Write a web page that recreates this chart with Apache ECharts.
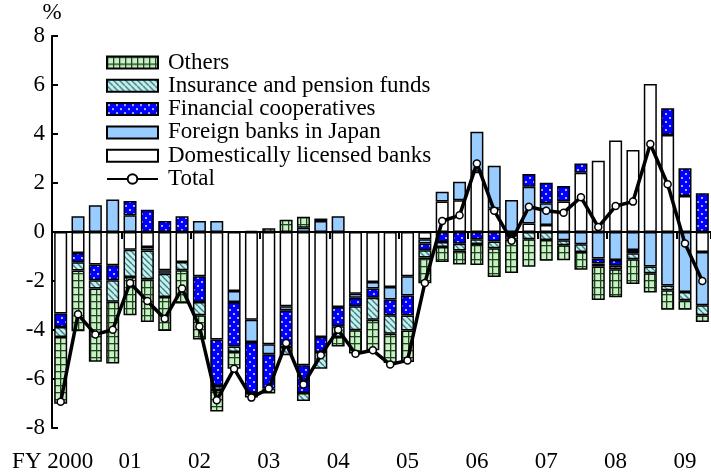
<!DOCTYPE html>
<html><head><meta charset="utf-8">
<script src="https://cdn.jsdelivr.net/npm/echarts@6/dist/echarts.min.js"></script>
<style>html,body{margin:0;padding:0;background:#fff}#c{width:711px;height:473px}</style>
</head><body><div id="c"></div>
<script>
const categories = ['2000Q1','2000Q2','2000Q3','2000Q4','2001Q1','2001Q2','2001Q3','2001Q4',
  '2002Q1','2002Q2','2002Q3','2002Q4','2003Q1','2003Q2','2003Q3','2003Q4',
  '2004Q1','2004Q2','2004Q3','2004Q4','2005Q1','2005Q2','2005Q3','2005Q4',
  '2006Q1','2006Q2','2006Q3','2006Q4','2007Q1','2007Q2','2007Q3','2007Q4',
  '2008Q1','2008Q2','2008Q3','2008Q4','2009Q1','2009Q2'];
const yearLabels = ['FY 2000','01','02','03','04','05','06','07','08','09'];
const domestic = [-3.33,-0.86,-1.33,-1.36,-0.72,-0.61,-1.56,-1.22,-1.81,-4.39,-2.41,-3.58,-4.58,-3.03,-5.44,-4.29,-3.06,-2.52,-2.04,-2.24,-1.81,-0.3,1.24,1.3,2.46,0.95,0,0.35,0.29,1.24,2.42,2.91,3.73,3.35,6.04,3.96,1.47,-0.82];
const foreign = [0,0.64,1.09,1.33,0.68,-0.14,-0.14,0,0.45,0.45,-0.45,-0.91,-0.41,-0.16,0.17,0.45,0.64,-0.16,-0.27,-0.52,-0.78,-0.17,0.40,0.75,1.63,1.75,1.31,1.5,0.88,-0.34,-0.5,-1.08,-1.14,-0.73,-1.41,-2.18,-2.45,-2.17];
const cooperatives = [-0.55,-0.37,-0.64,-0.61,0.59,0.91,0.45,0.64,-1.05,-1.9,-1.81,-2.08,-1.4,-1.5,-1.13,-0.61,-0.79,-0.35,-0.37,-0.64,-0.82,-0.27,-0.41,-0.48,-0.3,-0.39,-0.12,0.52,0.84,0.64,0.38,-0.21,-0.24,-0.14,0,1.09,1.13,1.58];
const insurance = [-0.41,-0.34,-0.34,-0.88,-1.12,-1.18,-0.95,-0.34,-0.54,-0.16,-0.23,-0.19,-0.2,-0.34,-0.33,-0.68,-0.44,-0.98,-0.9,-0.75,-0.61,-0.3,-0.2,-0.27,-0.19,-0.27,-0.2,-0.3,-0.33,-0.2,-0.32,-0.12,-0.14,-0.24,-0.27,-0.2,-0.34,-0.41];
const others = [-2.72,-2.48,-2.99,-2.52,-1.56,-1.74,-1.39,-1.36,-0.99,-0.88,-0.68,0.05,0.15,0.5,0.45,0.1,-0.38,-0.95,-1.25,-1.2,-1.29,-1.05,-0.61,-0.58,-0.86,-1.18,-1.35,-1.12,-0.84,-0.61,-0.72,-1.37,-1.14,-1.01,-0.79,-0.79,-0.38,-0.27];
const total = [-6.93,-3.36,-4.18,-3.99,-2.08,-2.82,-3.54,-2.31,-3.86,-6.87,-5.58,-6.76,-6.39,-4.53,-6.22,-5.03,-3.99,-4.97,-4.83,-5.41,-5.24,-2.08,0.45,0.68,2.80,0.87,-0.36,1.03,0.87,0.79,1.42,0.2,1.06,1.24,3.59,1.95,-0.47,-2.0];

const FONT = "'Liberation Serif','Times New Roman',serif";

function pattern(w, h, draw) {
  const c = document.createElement('canvas');
  c.width = w; c.height = h;
  const g = c.getContext('2d');
  draw(g, w, h);
  return { image: c, repeat: 'repeat' };
}
const greenGrid = pattern(6, 7, (g, w, h) => {
  g.fillStyle = '#c8f0c4'; g.fillRect(0, 0, w, h);
  g.fillStyle = '#1f451f'; g.fillRect(0, 0, 1.3, h); g.fillRect(0, 0, w, 1.3);
});
const hatch = pattern(6, 6, (g, w, h) => {
  g.fillStyle = '#c4f0f0'; g.fillRect(0, 0, w, h);
  g.strokeStyle = '#3f7f7f'; g.lineWidth = 1.4;
  g.beginPath();
  for (let k = -1; k <= 1; k++) { g.moveTo(k * w, 0); g.lineTo(k * w + w, h); }
  g.stroke();
});
const dots = pattern(8, 8, (g, w, h) => {
  g.fillStyle = '#0000ff'; g.fillRect(0, 0, w, h);
  g.fillStyle = '#ffffff';
  g.beginPath(); g.arc(2, 2, 0.9, 0, Math.PI * 2); g.fill();
  g.beginPath(); g.arc(6, 6, 0.9, 0, Math.PI * 2); g.fill();
});

function barSeries(name, data, color, extra) {
  return Object.assign({
    name, type: 'bar', stack: 'all', barWidth: 13,
    data: data.map(v => v === 0 ? null : v),
    itemStyle: { color, borderColor: '#000', borderWidth: 1.5 },
    emphasis: { disabled: true }
  }, extra || {});
}

const chart = echarts.init(document.getElementById('c'), null, { renderer: 'canvas' });
chart.setOption({
  animation: false,
  backgroundColor: '#fff',
  textStyle: { fontFamily: FONT, color: '#000' },
  grid: { left: 52, top: 36, width: 661, height: 392 },
  legend: {
    orient: 'vertical', left: 101, top: 46,
    itemWidth: 51, itemHeight: 12, itemGap: 0.3,
    textStyle: { fontFamily: FONT, fontSize: 23, lineHeight: 23, color: '#000', padding: [0, 0, 0, 5] },
    data: [
      { name: 'Others', icon: 'rect' },
      { name: 'Insurance and pension funds', icon: 'rect' },
      { name: 'Financial cooperatives', icon: 'rect' },
      { name: 'Foreign banks in Japan', icon: 'rect' },
      { name: 'Domestically licensed banks', icon: 'rect' },
      { name: 'Total' }
    ]
  },
  xAxis: {
    type: 'category', data: categories,
    axisLine: { lineStyle: { color: '#000', width: 2 } },
    axisTick: { show: true, length: 7, inside: false, interval: (i) => i % 4 === 0, lineStyle: { color: '#000', width: 2 } },
    axisLabel: {
      interval: (i) => i % 4 === 0,
      margin: 22, fontSize: 23, fontFamily: FONT, color: '#000',
      formatter: (v, i) => i === 0 ? '{fy|' + yearLabels[0] + '}' : yearLabels[Math.floor(i / 4)],
      rich: { fy: { fontSize: 23, fontFamily: FONT, color: '#000', padding: [0, 16, 0, 0] } }
    },
    splitLine: { show: false }
  },
  yAxis: {
    type: 'value', min: -8, max: 8, interval: 2,
    name: '%', nameGap: 4, nameTextStyle: { fontSize: 23, fontFamily: FONT, color: '#000' },
    axisLine: { show: true, lineStyle: { color: '#000', width: 2 } },
    axisTick: { show: true, inside: true, length: 6, lineStyle: { color: '#000', width: 2 } },
    axisLabel: { margin: 7, fontSize: 23, fontFamily: FONT, color: '#000' },
    splitLine: { show: false }
  },
  series: [
    barSeries('Domestically licensed banks', domestic, '#ffffff', {
      markLine: {
        silent: true, symbol: 'none', label: { show: false },
        lineStyle: { color: '#000', width: 1, type: 'solid' },
        data: [{ yAxis: 0 }]
      }
    }),
    barSeries('Foreign banks in Japan', foreign, '#99ccff'),
    barSeries('Financial cooperatives', cooperatives, dots),
    barSeries('Insurance and pension funds', insurance, hatch),
    barSeries('Others', others, greenGrid),
    {
      name: 'Total', type: 'line', data: total, z: 10,
      symbol: 'circle', symbolSize: 7, showAllSymbol: true,
      lineStyle: { color: '#000', width: 3.5 },
      itemStyle: { color: '#fff', borderColor: '#000', borderWidth: 1.5 },
      emphasis: { disabled: true }
    }
  ]
});
</script>
</body></html>
